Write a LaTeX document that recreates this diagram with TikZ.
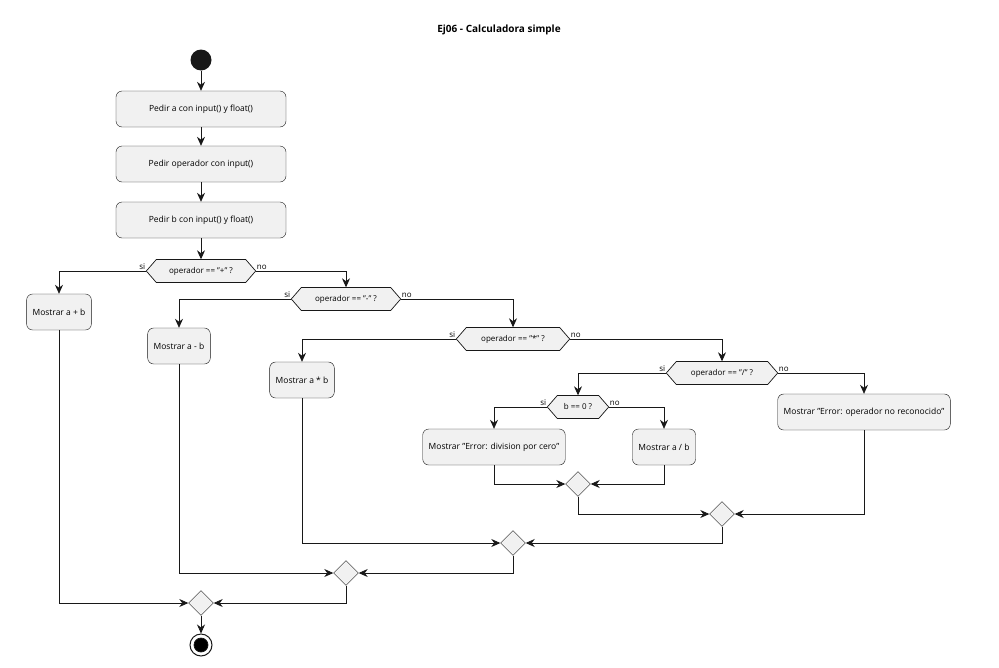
\documentclass[tikz,border=0pt]{standalone}
\usepackage{fontspec}
\setmainfont{Open Sans}
\usetikzlibrary{arrows.meta,shapes.geometric}
\definecolor{bx}{HTML}{F1F1F1}
\definecolor{ln}{HTML}{181818}
\tikzset{
 act/.style={draw=ln,fill=bx,rounded corners=6pt,minimum height=36pt,inner xsep=6pt,font=\fontsize{8.5}{10}\selectfont},
 hexn/.style={minimum height=23pt,inner sep=0pt,font=\fontsize{8}{10}\selectfont},
 merge/.style={diamond,draw=ln,fill=bx,minimum width=25pt,minimum height=25pt,inner sep=0pt},
 arr/.style={draw=ln,line width=0.7pt,-{Stealth[length=9pt,width=8pt]}},
 ln/.style={draw=ln,line width=0.7pt},
 lab/.style={font=\fontsize{8}{10}\selectfont,inner sep=1pt}
}
\newcommand{\hexa}[5]{%
 \node[hexn,minimum width=#4*2pt] (#1) at (#2,#3) {#5};
 \draw[ln,fill=bx] (#1.west) -- ++(10,-11.5) -- ($(#1.east)+(-10,-11.5)$) -- (#1.east) -- ($(#1.east)+(-10,11.5)$) -- ($(#1.west)+(10,11.5)$) -- cycle;
 \node[hexn,minimum width=#4*2pt] at (#2,#3) {#5};}
\usetikzlibrary{calc}
\begin{document}
\begin{tikzpicture}[x=1pt,y=-1pt]
\fill[white] (0,0) rectangle (999,667);
\node[font=\bfseries\fontsize{10}{12}\selectfont] (title) at (499,30) {Ej06 - Calculadora simple};
\node[circle,fill=ln,minimum size=21pt,inner sep=0pt] (start) at (201,60) {};
\node[act,minimum width=170pt] (b1) at (201,109) {Pedir a con input() y float()};
\node[act,minimum width=170pt] (b2) at (201,164) {Pedir operador con input()};
\node[act,minimum width=170pt] (b3) at (201,220) {Pedir b con input() y float()};
\hexa{d1}{201}{271}{54.5}{operador == "+" ?}
\node[act] (ba) at (59,312) {Mostrar a + b};
\hexa{d2}{346}{299}{54.5}{operador == "-" ?}
\node[act] (bs) at (179,346) {Mostrar a - b};
\hexa{d3}{513}{339}{56.5}{operador == "*" ?}
\node[act] (bm) at (302,380) {Mostrar a * b};
\hexa{d4}{722}{373}{55.5}{operador == "/" ?}
\hexa{d5}{578}{407}{30.5}{b == 0 ?}
\node[act] (be) at (494,447) {Mostrar "Error: division por cero"};
\node[act] (bd) at (664,447) {Mostrar a / b};
\node[act] (bn) at (864,412) {Mostrar "Error: operador no reconocido"};
\node[merge] (m5) at (578,484) {};
\node[merge] (m4) at (722,514) {};
\node[merge] (m3) at (513,543) {};
\node[merge] (m2) at (346,573) {};
\node[merge] (m1) at (201,603) {};
\node[circle,draw=ln,line width=1pt,fill=white,minimum size=22pt,inner sep=0pt] (end) at (201,645) {};
\fill[ln] (end) circle (7pt);
\draw[arr] (start) -- (b1);
\draw[arr] (b1) -- (b2);
\draw[arr] (b2) -- (b3);
\draw[arr] (b3) -- (d1.north);
\draw[arr] (d1.west) -| (ba.north);
\draw[arr] (d1.east) -| (d2.north);
\draw[arr] (d2.west) -| (bs.north);
\draw[arr] (d2.east) -| (d3.north);
\draw[arr] (d3.west) -| (bm.north);
\draw[arr] (d3.east) -| (d4.north);
\draw[arr] (d4.west) -| (d5.north);
\draw[arr] (d4.east) -| (bn.north);
\draw[arr] (d5.west) -| (be.north);
\draw[arr] (d5.east) -| (bd.north);
\node[lab,anchor=south east] at (d1.west) {si};
\node[lab,anchor=south west] at (d1.east) {no};
\node[lab,anchor=south east] at (d2.west) {si};
\node[lab,anchor=south west] at (d2.east) {no};
\node[lab,anchor=south east] at (d3.west) {si};
\node[lab,anchor=south west] at (d3.east) {no};
\node[lab,anchor=south east] at (d4.west) {si};
\node[lab,anchor=south west] at (d4.east) {no};
\node[lab,anchor=south east] at (d5.west) {si};
\node[lab,anchor=south west] at (d5.east) {no};
\draw[arr] (be.south) |- (m5.west);
\draw[arr] (bd.south) |- (m5.east);
\draw[arr] (m5.south) |- (m4.west);
\draw[arr] (bn.south) |- (m4.east);
\draw[arr] (m4.south) |- (m3.east);
\draw[arr] (bm.south) |- (m3.west);
\draw[arr] (m3.south) |- (m2.east);
\draw[arr] (bs.south) |- (m2.west);
\draw[arr] (m2.south) |- (m1.east);
\draw[arr] (ba.south) |- (m1.west);
\draw[arr] (m1) -- (end);
\end{tikzpicture}
\end{document}
